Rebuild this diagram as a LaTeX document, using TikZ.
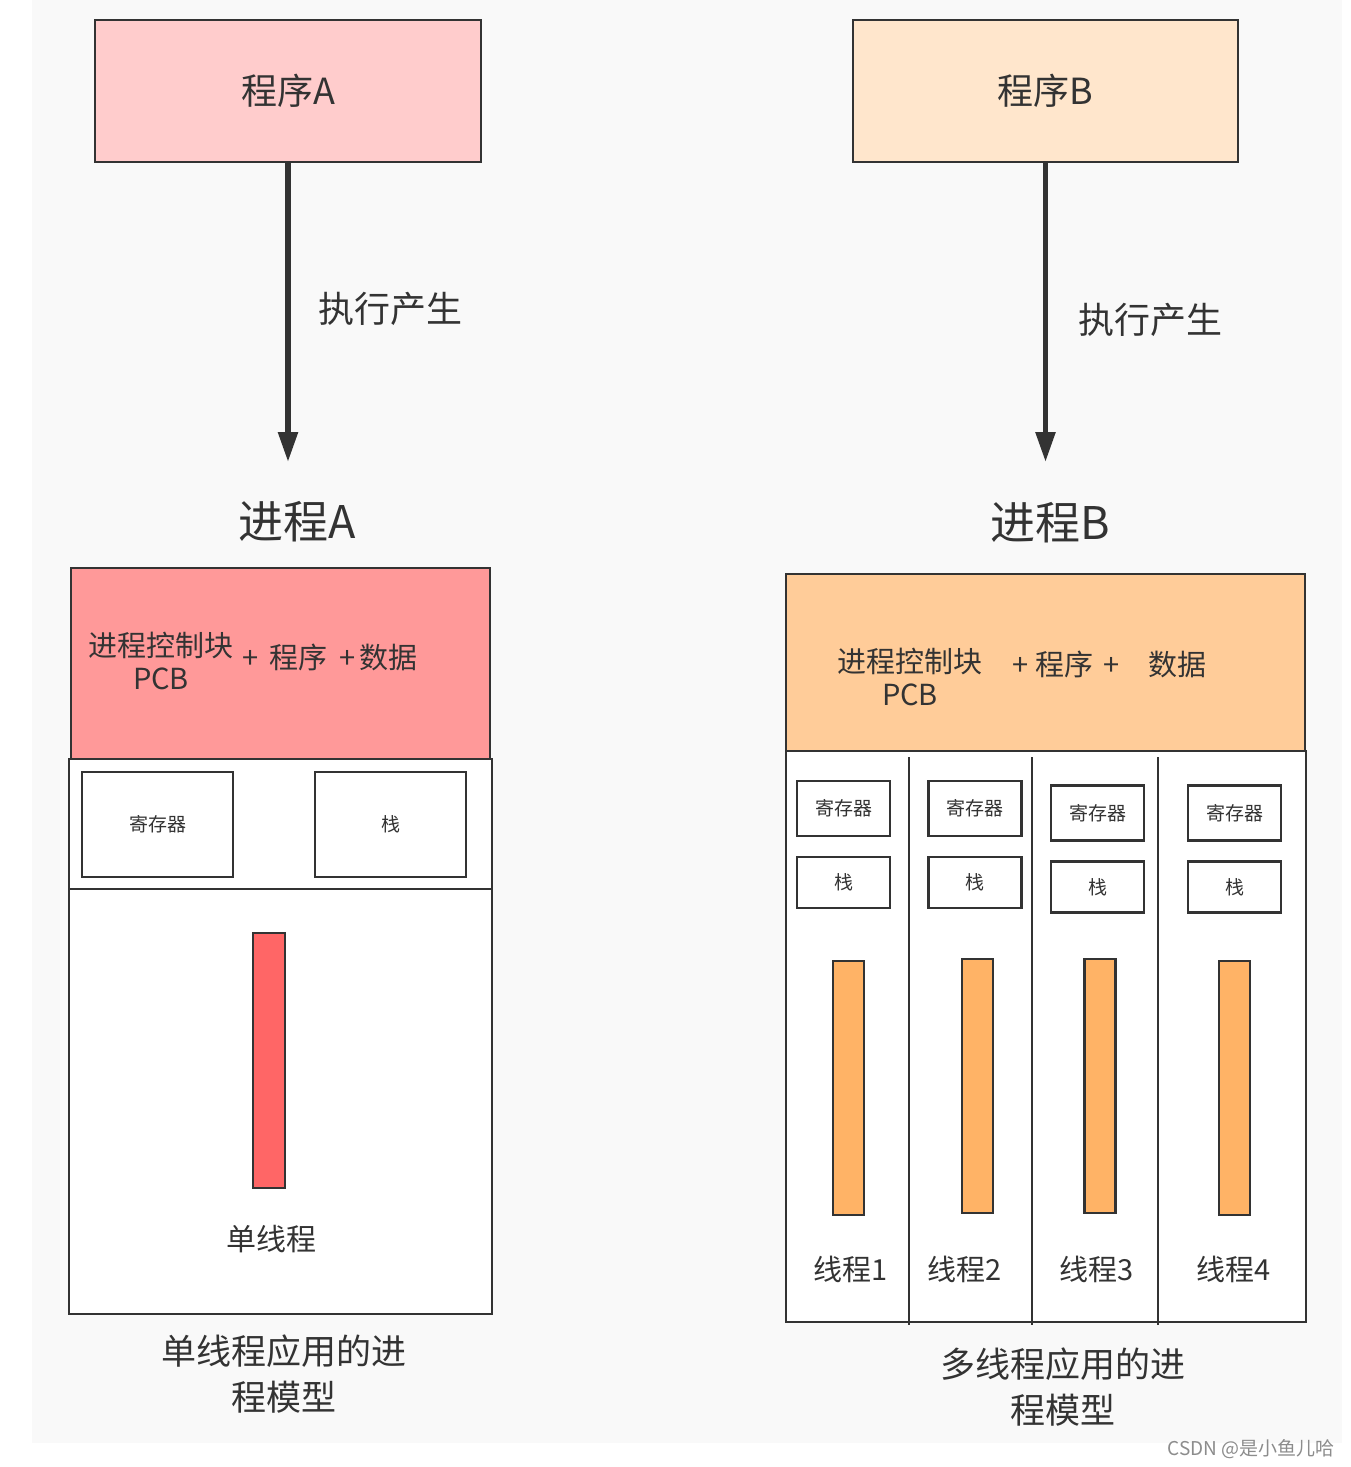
\documentclass[tikz,border=0pt]{standalone}
\usepackage{fontspec}
\usepackage{xcolor}
\usepackage{tikz}
\usetikzlibrary{arrows.meta}
\newfontfamily\cjk{Noto Sans CJK SC}
\newcommand{\cjksize}[2]{\cjk\fontsize{#1}{#2}\selectfont}
\definecolor{ink}{HTML}{333333}
\definecolor{paper}{HTML}{F9F9F9}
\definecolor{progA}{HTML}{FFCCCC}
\definecolor{progB}{HTML}{FFE6CC}
\definecolor{pcbA}{HTML}{FF9999}
\definecolor{pcbB}{HTML}{FFCC99}
\definecolor{barA}{HTML}{FF6666}
\definecolor{barB}{HTML}{FFB366}
\definecolor{mark}{HTML}{8C8C8C}

\begin{document}
\begin{tikzpicture}[x=1pt, y=-1pt,
    box/.style={draw=ink, line width=2.6pt, inner sep=0pt},
    txt/.style={text=ink, inner sep=0pt},
    flow/.style={draw=ink, line width=5.5pt, -{Triangle[width=19pt,length=30pt]}}]
        \fill[white] (0,0) rectangle (1350,1467);
        \useasboundingbox (0,0) rectangle (1350,1467);
        \fill[paper] (32,0) rectangle (1342,1443); % canvas

        % program A -> process A
        \node[box, txt, fill=progA, minimum width=386pt, minimum height=142pt, font=\cjksize{36}{40}] (prog-A) at (288,91) {程序A};
        \coordinate (tip-A) at (288,462);
        \draw[flow] (prog-A) -- (tip-A);
        \node[txt, font=\cjksize{36}{40}] (run-A) at (390,309) {执行产生};
        \node[txt, font=\cjksize{45}{50}] (title-A) at (297,522) {进程A};

        \node[box, fill=pcbA, minimum width=419pt, minimum height=191pt] (pcb-A) at (280.5,663.5) {};
        \node[txt, align=center, font=\cjksize{29}{33}] (pcb-A-name) at (161,661) {进程控制块\\PCB};
        \node[txt, anchor=west, font=\cjksize{29}{33}] (pcb-A-rest) at (242,657) {+ \hspace{5pt}程序 \hspace{5pt}+\hspace{4pt}数据};

        \node[box, fill=white, minimum width=423pt, minimum height=130pt] (mid-A) at (280.5,824) {};
        \node[box, txt, fill=white, minimum width=151pt, minimum height=105pt, font=\cjksize{19}{22}] (reg-A) at (157.5,824.5) {寄存器};
        \node[box, txt, fill=white, minimum width=151pt, minimum height=105pt, font=\cjksize{19}{22}] (stack-A) at (390.5,824.5) {栈};

        \node[box, fill=white, minimum width=423pt, minimum height=425pt] (low-A) at (280.5,1101.5) {};
        \node[box, fill=barA, minimum width=32pt, minimum height=255pt] (bar-A) at (269,1060.5) {};
        \node[txt, font=\cjksize{30}{34}] (thread-A) at (271,1239) {单线程};
        \node[txt, align=center, font=\cjksize{35}{46}] (cap-A) at (284,1374) {单线程应用的进\\程模型};

        % program B -> process B
        \node[box, txt, fill=progB, minimum width=385pt, minimum height=142pt, font=\cjksize{36}{40}] (prog-B) at (1045.5,91) {程序B};
        \coordinate (tip-B) at (1045.5,462);
        \draw[flow] (prog-B) -- (tip-B);
        \node[txt, font=\cjksize{36}{40}] (run-B) at (1150,320) {执行产生};
        \node[txt, font=\cjksize{45}{50}] (title-B) at (1050,523) {进程B};

        \node[box, fill=pcbB, minimum width=519pt, minimum height=177pt] (pcb-B) at (1045.5,662.5) {};
        \node[txt, align=center, font=\cjksize{29}{33}] (pcb-B-name) at (910,677) {进程控制块\\PCB};
        \node[txt, font=\cjksize{29}{33}] (pcb-B-rest) at (1066,664) {+ 程序 \hspace{4pt}+};
        \node[txt, font=\cjksize{29}{33}] (pcb-B-data) at (1177,664) {数据};

        \node[box, fill=white, minimum width=520pt, minimum height=571pt] (low-B) at (1046,1036.5) {};
        \foreach \x in {909,1032,1158}
            \draw[ink, line width=2.6pt] (\x,757) -- (\x,1325); % thread walls

        \foreach \i/\rx/\ry/\bx/\by/\lx in {1/843.5/808.5/848.5/1088/851, 2/975/808.5/977.5/1086/965, 3/1097.5/813/1100/1086/1097, 4/1234.5/813/1234.5/1088/1234}{
            \node[box, txt, fill=white, minimum width=93pt, minimum height=55pt, font=\cjksize{19}{22}] (reg-\i) at (\rx,\ry) {寄存器};
            \node[box, txt, fill=white, minimum width=93pt, minimum height=51pt, font=\cjksize{19}{22}] (stack-\i) at (\rx,\ry+74) {栈};
            \node[box, fill=barB, minimum width=31pt, minimum height=254pt] (bar-\i) at (\bx,\by) {};
            \node[txt, font=\cjksize{29}{33}] (thread-\i) at (\lx,1269) {线程\i};
        }
        \node[txt, align=center, font=\cjksize{35}{46}] (cap-B) at (1063,1387) {多线程应用的进\\程模型};

        \node[anchor=east, inner sep=0pt, text=mark, font=\cjksize{19}{22}] (mark) at (1335,1449) {CSDN @是小鱼儿哈};
    \end{tikzpicture}
\end{document}
